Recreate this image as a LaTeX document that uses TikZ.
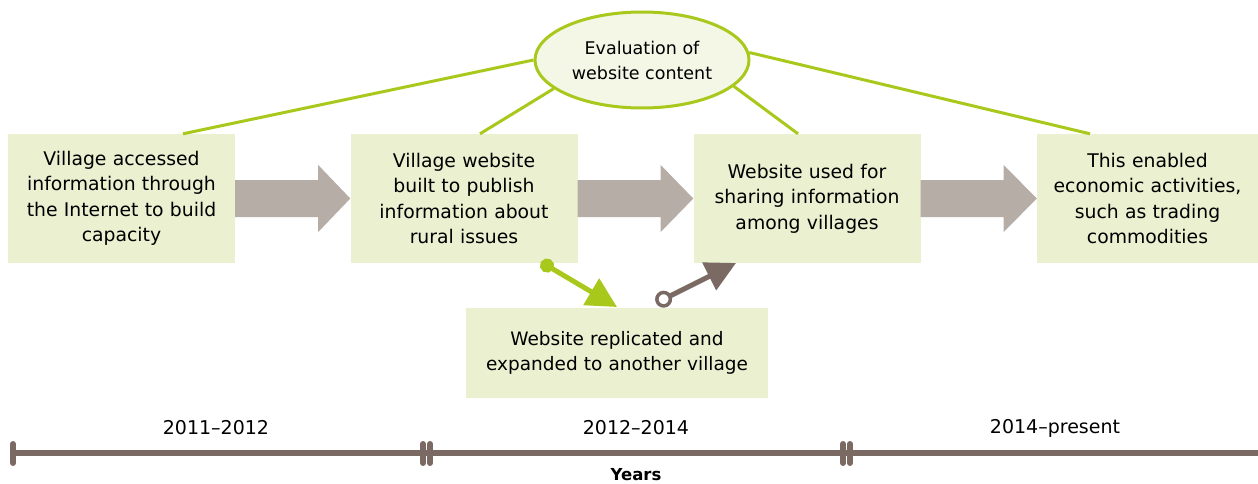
\documentclass[tikz,border=0pt]{standalone}
\usepackage{fontspec}
\setmainfont{DejaVu Sans}
\usetikzlibrary{arrows.meta,shapes.geometric,calc}
\definecolor{boxfill}{RGB}{234,240,208}
\definecolor{ellfill}{RGB}{244,246,230}
\definecolor{lime}{RGB}{168,200,28}
\definecolor{greyarrow}{RGB}{182,173,167}
\definecolor{brownline}{RGB}{122,106,99}
\begin{document}
\begin{tikzpicture}[x=1pt,y=-1pt,
  stagebox/.style={fill=boxfill,minimum width=227pt,minimum height=129pt,inner sep=0pt,text width=215pt,align=center,font=\fontsize{18.8}{25.5}\selectfont},
  evalell/.style={ellipse,draw=lime,line width=3pt,fill=ellfill,minimum width=214pt,minimum height=96pt,inner sep=0pt,align=center,font=\fontsize{17.5}{25}\selectfont},
  link/.style={draw=lime,line width=3pt},
  bigarrow/.style={fill=greyarrow},
  tline/.style={draw=brownline,line width=6pt,line cap=round},
  yearlabel/.style={font=\fontsize{19}{22}\selectfont}
]
\useasboundingbox (0,0) rectangle (1258,484);
% stage boxes
\node[stagebox] (b1) at (121.5,198.5) {Village accessed\\information through\\the Internet to build\\capacity};
\node[stagebox] (b2) at (464,198.5) {Village website\\built to publish\\information about\\rural issues};
\node[stagebox] (b3) at (807,198.5) {Website used for\\sharing information\\among villages};
\node[stagebox,minimum width=221pt,text width=215pt] (b4) at (1147.5,198.5) {This enabled\\economic activities,\\such as trading\\commodities};
\node[stagebox,minimum width=302pt,minimum height=90pt,text width=295pt,font=\fontsize{18.5}{25.5}\selectfont] (b5) at (617,353) {Website replicated and\\expanded to another village};
% evaluation ellipse
\node[evalell] (ev) at (642,60) {Evaluation of\\website content};
% links from ellipse
\draw[link] (ev.180) -- ($(b1.north)+(61.5,0)$);
\draw[link] (ev.198) -- ($(b2.north)+(16,0)$);
\draw[link] (ev.344) -- ($(b3.north)+(-9,0)$);
\draw[link] (ev.4) -- ($(b4.north)+(-57.5,0)$);
% grey block arrows
\foreach \a/\b in {b1/b2,b2/b3,b3/b4}{
  \path[bigarrow] (\a.east) ++(0,-18.5) -- ++(83,0) -- ++(0,-15) -- (\b.west) -- ($(\a.east)+(83,33.5)$) -- ++(0,-15) -- ($(\a.east)+(0,18.5)$) -- cycle;
}
% small arrows
\coordinate (gs) at (541,262);
\coordinate (ge) at (617,307);
\draw[lime,line width=5pt,{Circle[length=14pt]}-{Triangle[length=30pt,width=30pt]}] (gs) -- (ge);
\coordinate (bs) at (656,303);
\coordinate (be) at (736,263);
\draw[brownline,line width=5pt,{Circle[open,length=17pt,fill=white,line width=3.5pt]}-{Triangle[length=30pt,width=30pt]}] (bs) -- (be);
% timeline
\coordinate (t0) at (13,453);
\coordinate (t1) at (423,453);
\coordinate (t2) at (430,453);
\coordinate (t3) at (843,453);
\coordinate (t4) at (850,453);
\coordinate (t5) at (1258,453);
\draw[tline,line cap=butt] (t0) -- (t5);
\foreach \t in {t0,t1,t2,t3,t4}{
  \draw[tline] ($(\t)+(0,-9)$) -- ($(\t)+(0,10)$);
}
\node[yearlabel] (y1) at (216,428) {2011–2012};
\node[yearlabel] (y2) at (636,428) {2012–2014};
\node[yearlabel] (y3) at (1055,428) {2014–present};
\node[font=\fontsize{16.5}{18}\selectfont\bfseries] (yr) at (636,475) {Years};
\end{tikzpicture}
\end{document}
